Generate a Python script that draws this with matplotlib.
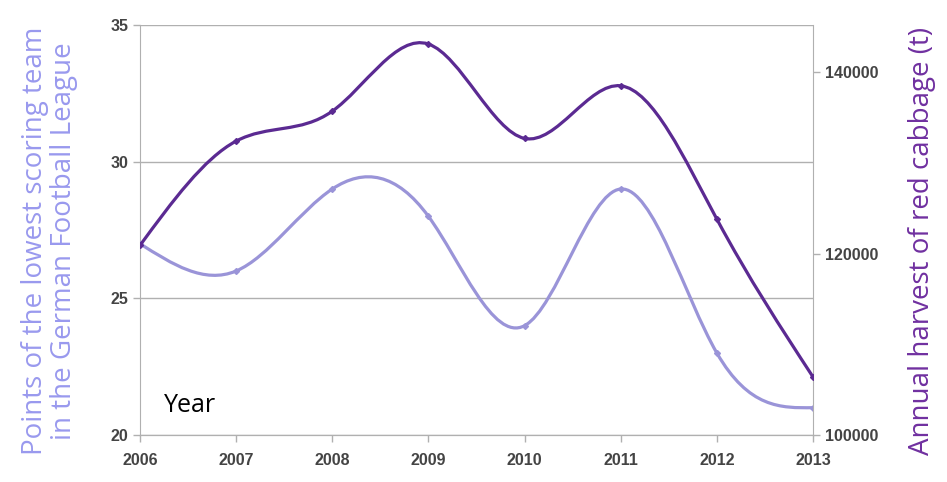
import numpy as np
import matplotlib
matplotlib.use('Agg')
import matplotlib.pyplot as plt
from matplotlib.path import Path
from matplotlib.patches import PathPatch

# data
years = [2006, 2007, 2008, 2009, 2010, 2011, 2012, 2013]
points = [27, 26, 29, 28, 24, 29, 23, 21]
cabbage = [120900, 132400, 135700, 143100, 132700, 138500, 123800, 106400]

light = '#9a94d8'
dark = '#5b2a92'
grey = '#b0b0b0'


def smooth_path(x, y):
    # natural cubic spline slopes, drawn as bezier segments
    x = np.asarray(x, float)
    y = np.asarray(y, float)
    n = len(x)
    A = np.zeros((n, n))
    b = np.zeros(n)
    A[0, 0], A[0, 1] = 2, 1
    b[0] = 3 * (y[1] - y[0])
    A[-1, -1], A[-1, -2] = 2, 1
    b[-1] = 3 * (y[-1] - y[-2])
    for i in range(1, n - 1):
        A[i, i - 1], A[i, i], A[i, i + 1] = 1, 4, 1
        b[i] = 3 * (y[i + 1] - y[i - 1])
    m = np.linalg.solve(A, b)
    verts = [(x[0], y[0])]
    codes = [Path.MOVETO]
    for i in range(n - 1):
        h = x[i + 1] - x[i]
        verts += [(x[i] + h / 3, y[i] + m[i] / 3),
                  (x[i + 1] - h / 3, y[i + 1] - m[i + 1] / 3),
                  (x[i + 1], y[i + 1])]
        codes += [Path.CURVE4] * 3
    return Path(verts, codes)


fig = plt.figure(figsize=(9.47, 4.82), dpi=100)
ax = fig.add_axes([0.1478, 0.0975, 0.7107, 0.8506])
ax2 = ax.twinx()

ax.add_patch(PathPatch(smooth_path(years, points), fill=False, edgecolor=light, lw=2.3, zorder=3))
ax.plot(years, points, 'D', color=light, ms=3, zorder=4)
ax2.add_patch(PathPatch(smooth_path(years, cabbage), fill=False, edgecolor=dark, lw=2.3, zorder=3))
ax2.plot(years, cabbage, 'D', color=dark, ms=3, zorder=4)

ax.set_xlim(2006, 2013)
ax.set_ylim(20, 35)
ax2.set_ylim(100000, 145200)
ax.set_xticks(years)
ax.set_yticks([20, 25, 30, 35])
ax2.set_yticks([100000, 120000, 140000])
ax.grid(axis='y', color=grey, lw=1)
ax.set_axisbelow(True)

for a in (ax, ax2):
    for s in a.spines.values():
        s.set_color(grey)
    a.spines['top'].set_visible(False)
    a.tick_params(colors=grey, length=5, width=1, labelcolor='#444444', labelsize=11.5)
ax.tick_params(axis='x', pad=8)
ax2.spines['left'].set_visible(False)
ax.spines['right'].set_visible(False)
for lab in ax.get_xticklabels() + ax.get_yticklabels() + ax2.get_yticklabels():
    lab.set_family('Liberation Sans')
    lab.set_fontweight('bold')

ax.text(2006.25, 20.85, 'Year', fontsize=18, family='Open Sans', color='black')
fig.text(0.052, 0.5, 'Points of the lowest scoring team\nin the German Football League',
         rotation=90, ha='center', va='center', fontsize=20, family='Open Sans',
         color='#9999ee', linespacing=1.05)
fig.text(0.974, 0.5, 'Annual harvest of red cabbage (t)', rotation=90,
         ha='center', va='center', fontsize=20, family='Open Sans', color='#7030a0')

fig.savefig('out.png', dpi=100)
